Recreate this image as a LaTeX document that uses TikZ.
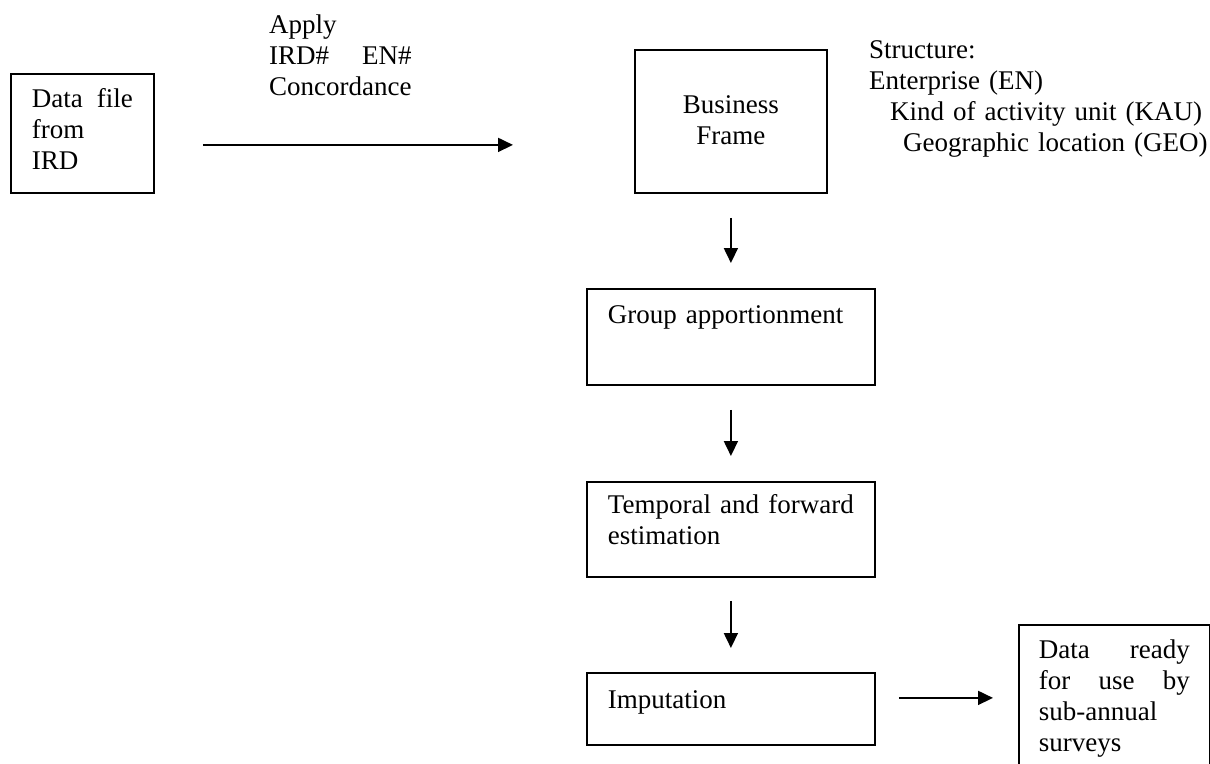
\documentclass[tikz,border=0pt]{standalone}
\usepackage{fontspec}
\setmainfont{Liberation Serif}
\usetikzlibrary{arrows.meta}
\tikzset{
    txt/.style = {inner sep=0pt, font=\fontsize{27}{31}\selectfont},
    box/.style = {txt, rectangle, draw=black, line width=1.8pt, anchor=north west},
    pbox/.style = {box, align=left, minimum width=288pt, text width=246pt},
    lbl/.style = {txt, align=left, anchor=base west},
    flow/.style = {->, line width=1.8pt}
}

\begin{document}
\begin{tikzpicture}[x=1pt, y=-1pt, >={Triangle[length=15pt,width=14pt]}]
    \useasboundingbox (0,0) rectangle (1210,763);
    \node [box, align=left, minimum width=143pt, text width=101pt, text height=34pt, text depth=85pt]
        (data) at (10,73) {Data\hfill file\\ from\\ IRD};
    \node [lbl, text width=220pt] (apply) at (269,33) {Apply\\ IRD\#\hspace*{33pt}EN\#\\ Concordance};
    \node [box, align=center, minimum width=192pt, text width=150pt, text height=64pt, text depth=79pt]
        (bf) at (634,49) {Business\\ Frame};
    \node [lbl, text width=340pt] (struct) at (869,58)
        {Structure:\\ Enterprise (EN)\\ \hspace*{21pt}Kind of activity unit (KAU)\\ \hspace*{34pt}Geographic location (GEO)};
    \node [pbox, text height=35pt, text depth=61pt] (ga) at (586,288) {Group apportionment};
    \node [pbox, text height=32pt, text depth=63pt] (tf) at (586,481) {Temporal\hfill and\hfill forward\\ estimation};
    \node [pbox, text height=36pt, text depth=36pt] (imp) at (586,672) {Imputation};
    \node [box, align=left, minimum width=191pt, text width=151pt, text height=34pt, text depth=122pt]
        (ready) at (1018,624) {Data\hfill ready\\ for\hfill use\hfill by\\ sub-annual\\ surveys};

    \draw [flow] ([shift={(48,11.5)}]data.east) -- ([shift={(-121,23.5)}]bf.west);
    \draw [flow] ([shift={(0,24)}]bf.south) -- ([shift={(0,-25)}]ga.north);
    \draw [flow] ([shift={(0,24)}]ga.south) -- ([shift={(0,-25)}]tf.north);
    \draw [flow] ([shift={(0,23)}]tf.south) -- ([shift={(0,-24)}]imp.north);
    \draw [flow] ([shift={(23,-11)}]imp.east) -- ([shift={(-25,-5)}]ready.west);
\end{tikzpicture}
\end{document}
